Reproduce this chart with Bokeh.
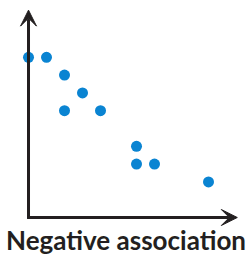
from bokeh.plotting import figure
from bokeh.models import Arrow, VeeHead, Label, Range1d
from bokeh.embed import file_html
from bokeh.resources import INLINE

# data
x_vals = [0, 1, 2, 3, 2, 4, 6, 6, 7, 10]
y_vals = [9, 9, 8, 7, 6, 6, 4, 3, 3, 2]
title_text = "Negative association"

W, H = 248, 256
p = figure(width=W, height=H, output_backend="svg", toolbar_location=None,
           x_range=Range1d(-1.556, 12.222), y_range=Range1d(-2.191, 12.191),
           min_border=0)
p.axis.visible = False
p.grid.visible = False
p.outline_line_color = None
p.background_fill_color = "white"
p.border_fill_color = "white"

axis_color = "#231f20"
p.add_layout(Arrow(x_start=0, y_start=-0.05, x_end=0, y_end=11.65,
                   line_width=3, line_color=axis_color,
                   end=VeeHead(size=16, fill_color=axis_color, line_color=axis_color, line_width=1)))
p.add_layout(Arrow(x_start=-0.08, y_start=0, x_end=11.6, y_end=0,
                   line_width=3, line_color=axis_color,
                   end=VeeHead(size=16, fill_color=axis_color, line_color=axis_color, line_width=1)))

p.scatter(x_vals, y_vals, size=11, color="#0a84d2", line_color=None)

p.add_layout(Label(x=125.5, y=1, x_units="screen", y_units="screen",
                   text=title_text, text_font="Lato", text_font_style="bold",
                   text_font_size="26px", text_color="#231f20", text_align="center",
                   text_baseline="bottom"))

open("out.html", "w").write(file_html(p, INLINE))
